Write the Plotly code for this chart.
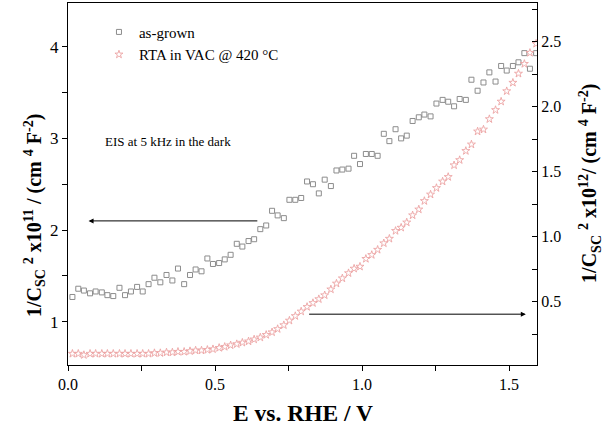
import plotly.graph_objects as go

# Potential (V vs. RHE) of each measurement point
voltage = [0.015, 0.035, 0.054, 0.075, 0.094, 0.115, 0.134, 0.154, 0.175, 0.194,
           0.214, 0.235, 0.254, 0.274, 0.294, 0.314, 0.335, 0.355, 0.374, 0.395,
           0.415, 0.434, 0.454, 0.474, 0.493, 0.514, 0.533, 0.553, 0.574, 0.593,
           0.614, 0.633, 0.654, 0.674, 0.694, 0.713, 0.734, 0.753, 0.773, 0.793,
           0.813, 0.833, 0.853, 0.873, 0.894, 0.913, 0.933, 0.954, 0.973, 0.993,
           1.013, 1.033, 1.053, 1.074, 1.093, 1.114, 1.133, 1.152, 1.172, 1.193,
           1.212, 1.233, 1.253, 1.274, 1.293, 1.313, 1.332, 1.353, 1.372, 1.393,
           1.413, 1.433, 1.454, 1.473, 1.492, 1.513, 1.532, 1.552, 1.571, 1.592]

# as-grown: 1/Csc^2 x 10^11 (left axis)
as_grown = [1.27, 1.36, 1.34, 1.31, 1.33, 1.32, 1.29, 1.28, 1.37, 1.29,
            1.33, 1.38, 1.33, 1.41, 1.48, 1.43, 1.51, 1.45, 1.58, 1.41,
            1.51, 1.57, 1.55, 1.69, 1.63, 1.64, 1.68, 1.73, 1.85, 1.82,
            1.88, 1.90, 2.01, 2.05, 2.21, 2.16, 2.13, 2.33, 2.33, 2.35,
            2.53, 2.50, 2.40, 2.55, 2.48, 2.65, 2.66, 2.67, 2.81, 2.72,
            2.83, 2.83, 2.81, 3.05, 2.97, 3.10, 3.00, 3.03, 3.19, 3.23,
            3.26, 3.24, 3.38, 3.42, 3.40, 3.35, 3.43, 3.42, 3.64, 3.52,
            3.61, 3.72, 3.62, 3.79, 3.74, 3.79, 3.83, 3.93, 3.76, 3.93]

# RTA in VAC @ 420 C: 1/Csc^2 x 10^12 (right axis)
rta = [0.100, 0.100, 0.090, 0.100, 0.100, 0.100, 0.100, 0.100, 0.100, 0.100,
       0.100, 0.100, 0.100, 0.100, 0.105, 0.105, 0.110, 0.110, 0.115, 0.115,
       0.120, 0.125, 0.125, 0.130, 0.135, 0.145, 0.153, 0.165, 0.174, 0.185,
       0.195, 0.210, 0.225, 0.245, 0.265, 0.290, 0.320, 0.355, 0.390, 0.425,
       0.460, 0.490, 0.520, 0.550, 0.595, 0.640, 0.680, 0.720, 0.755, 0.770,
       0.830, 0.860, 0.900, 0.950, 0.985, 1.045, 1.070, 1.110, 1.165, 1.210,
       1.275, 1.325, 1.375, 1.425, 1.460, 1.550, 1.590, 1.660, 1.710, 1.810,
       1.825, 1.905, 1.975, 2.040, 2.120, 2.185, 2.255, 2.330, 2.415, 2.485]

x_ticks = [0.0, 0.5, 1.0, 1.5]
x_ticklabels = ["0.0", "0.5", "1.0", "1.5"]
left_ticks = [1, 2, 3, 4]
right_ticks = [0.5, 1.0, 1.5, 2.0, 2.5]
right_ticklabels = ["0.5", "1.0", "1.5", "2.0", "2.5"]

FONT = "Liberation Serif, Times New Roman, serif"

fig = go.Figure()
fig.add_trace(go.Scatter(
    x=voltage, y=as_grown, mode="markers", name="as-grown",
    marker=dict(symbol="square-open", size=5, color="#8c8c8c", line=dict(width=1)),
    yaxis="y"))
fig.add_trace(go.Scatter(
    x=voltage, y=rta, mode="markers", name="RTA in VAC @ 420 °C",
    marker=dict(symbol="star-open", size=6, color="#eca4a4", line=dict(width=0.9)),
    yaxis="y2"))

fig.update_layout(
    width=605, height=427,
    margin=dict(l=68, r=68, t=3, b=62, autoexpand=False),
    paper_bgcolor="white", plot_bgcolor="white",
    font=dict(family=FONT, size=16, color="black"),
    showlegend=True,
    legend=dict(x=0.066, y=0.965, xanchor="left", yanchor="top",
                bgcolor="rgba(0,0,0,0)", font=dict(family=FONT, size=15),
                tracegroupgap=0),
    xaxis=dict(range=[0, 1.595], tickvals=x_ticks, ticktext=x_ticklabels,
               ticks="outside", ticklen=5, tickwidth=1, tickcolor="black",
               showline=True, linecolor="black", linewidth=1.2, mirror=True,
               showgrid=False, zeroline=False,
               minor=dict(ticks="outside", ticklen=5, dtick=0.25, tick0=0,
                          tickcolor="black", showgrid=False),
               tickfont=dict(family=FONT, size=16)),
    yaxis=dict(range=[0.528, 4.477], tickvals=left_ticks,
               ticks="outside", ticklen=5, tickwidth=1, tickcolor="black",
               showline=True, linecolor="black", linewidth=1.2,
               showgrid=False, zeroline=False,
               minor=dict(ticks="outside", ticklen=5, dtick=0.5, tick0=0,
                          tickcolor="black", showgrid=False),
               tickfont=dict(family=FONT, size=17)),
    yaxis2=dict(range=[0.013, 2.798], tickvals=right_ticks, ticktext=right_ticklabels,
                overlaying="y", side="right",
                ticks="inside", ticklen=5, tickwidth=1, tickcolor="black",
                showline=True, linecolor="black", linewidth=1.2,
                showgrid=False, zeroline=False,
                minor=dict(ticks="inside", ticklen=5, dtick=0.25, tick0=0,
                           tickcolor="black", showgrid=False),
                tickfont=dict(family=FONT, size=16)),
)

annotations = [
    # arrows
    dict(x=0.070, y=2.10, ax=0.649, ay=2.10, xref="x", yref="y", axref="x", ayref="y",
         showarrow=True, arrowhead=2, arrowsize=1, arrowwidth=1, arrowcolor="black",
         text="", standoff=0),
    dict(x=1.557, y=0.404, ax=0.815, ay=0.404, xref="x", yref="y2", axref="x", ayref="y2",
         showarrow=True, arrowhead=2, arrowsize=1, arrowwidth=1, arrowcolor="black",
         text="", standoff=0),
    # note
    dict(x=0.118, y=2.97, xref="x", yref="y", xanchor="left", yanchor="middle",
         text="EIS at 5 kHz in the dark", showarrow=False,
         font=dict(family=FONT, size=13)),
    # axis titles
    dict(x=0.5, y=-0.1326, xref="paper", yref="paper", xanchor="center", yanchor="middle",
         text="<b>E vs. RHE / V</b>", showarrow=False, font=dict(family=FONT, size=23.5)),
    dict(x=-0.0704, y=0.414, xref="paper", yref="paper", xanchor="center", yanchor="middle",
         textangle=-90, showarrow=False, font=dict(family=FONT, size=20),
         text="<b>1/C<sub>SC</sub> <sup>2</sup> x10<sup>11</sup> / (cm <sup>4</sup> F<sup>-2</sup>)</b>"),
    dict(x=1.113, y=0.503, xref="paper", yref="paper", xanchor="center", yanchor="middle",
         textangle=-90, showarrow=False, font=dict(family=FONT, size=20),
         text="<b>1/C<sub>SC</sub> <sup>2</sup> x10<sup>12</sup>/ (cm <sup>4</sup> F<sup>-2</sup>)</b>"),
]
fig.update_layout(annotations=annotations)

fig.write_html("out.html", config={"displayModeBar": False},
               post_script="document.body.style.margin='0';document.body.style.overflow='hidden';")
